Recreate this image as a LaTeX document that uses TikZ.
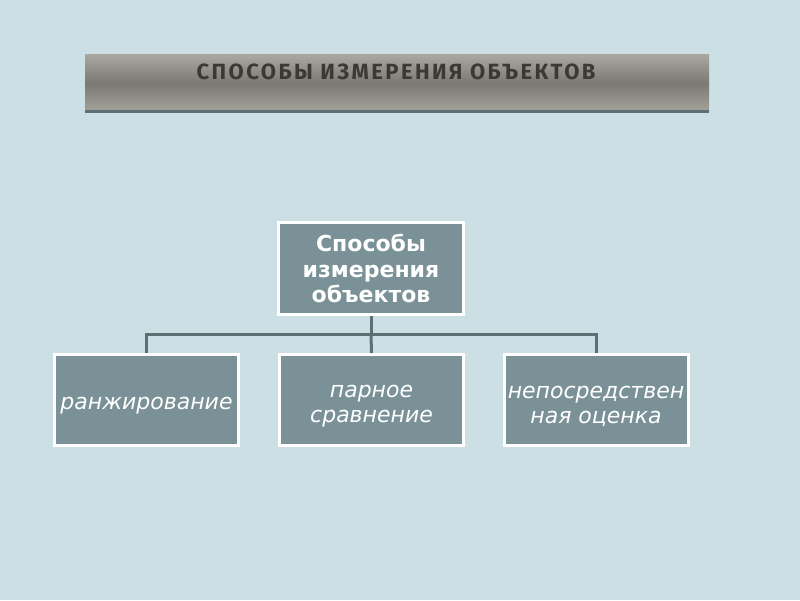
\documentclass[tikz,border=0pt]{standalone}
\usepackage{fontspec}
\setmainfont{DejaVu Sans}
\newfontfamily\titlefont[LetterSpace=11]{Fira Sans}
\definecolor{bgcol}{HTML}{CCDFE5}
\definecolor{boxfill}{HTML}{7A9297}
\definecolor{linecol}{HTML}{5E6F73}
\definecolor{bartop}{HTML}{A9A9A1}
\definecolor{barmid}{HTML}{7A7A73}
\definecolor{barbot}{HTML}{A2A29A}
\definecolor{titletext}{HTML}{3A3A33}
\begin{document}
\begin{tikzpicture}[x=1pt,y=-1pt,
  topbox/.style={draw=white,line width=3pt,fill=boxfill,text=white,align=center,
    minimum width=185pt,minimum height=92pt,inner sep=0pt,
    font=\fontsize{22}{25.5}\selectfont\bfseries},
  leafbox/.style={draw=white,line width=3pt,fill=boxfill,
    minimum width=184pt,minimum height=91pt,inner sep=0pt},
  leaftext/.style={text=white,align=center,inner sep=0pt,yshift=-6pt,
    font=\fontsize{22}{25}\selectfont\itshape},
  conn/.style={draw=linecol,line width=3pt}]
\useasboundingbox (0,0) rectangle (800,600);
\fill[bgcol] (0,0) rectangle (800,600);
% title bar
\shade[top color=bartop,bottom color=barmid] (85,54) rectangle (709,83);
\shade[top color=barmid,bottom color=barbot] (85,83) rectangle (709,111);
\fill[linecol] (85,110) rectangle (709,112.5);
\node[text=titletext,font=\titlefont\fontsize{22}{26}\selectfont\bfseries] (title) at (396,72) {СПОСОБЫ ИЗМЕРЕНИЯ ОБЪЕКТОВ};
% boxes
\node[topbox] (root) at (371,268.5) {Способы\\измерения\\объектов};
\node[leafbox,label={[leaftext]center:ранжирование}] (a) at (146.5,400) {};
\node[leafbox,label={[leaftext]center:парное\\сравнение}] (b) at (371.5,400) {};
\node[leafbox,label={[leaftext]center:непосредствен\\ная оценка}] (c) at (596,400) {};
\coordinate (j) at (371,334);
\draw[conn] (root.south) -- (j);
\draw[conn] (a.north) |- (j) -| (c.north);
\draw[conn] (j) -- (b.north);
\end{tikzpicture}
\end{document}
